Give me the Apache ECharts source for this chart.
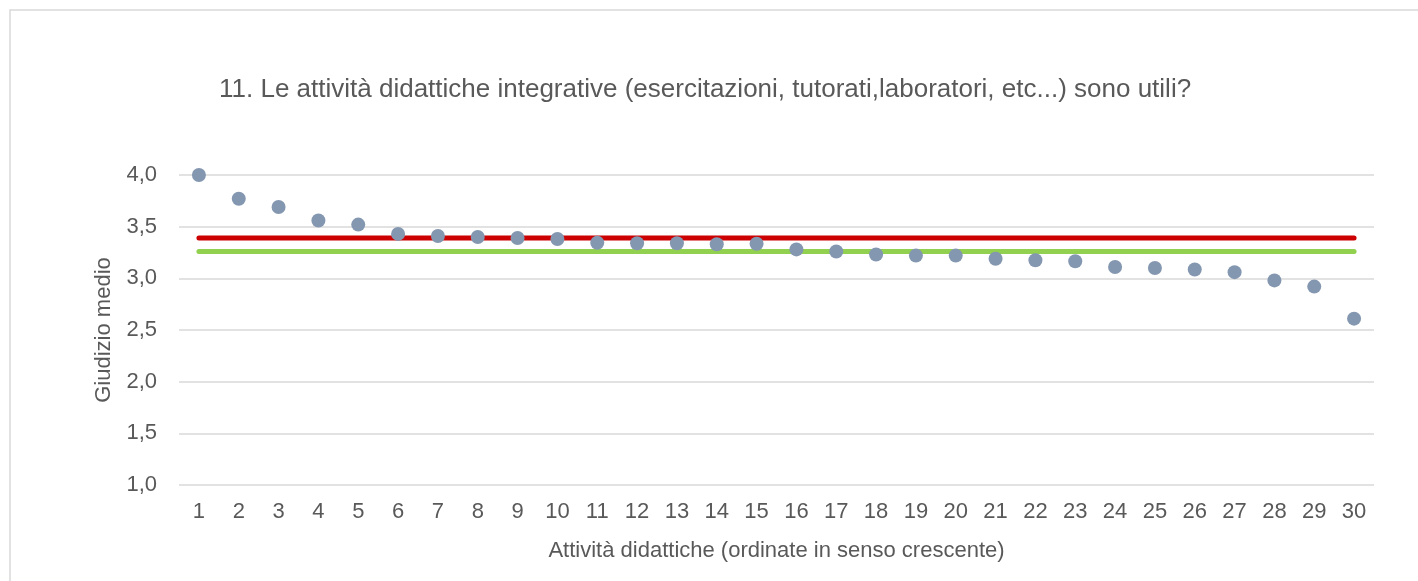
<!DOCTYPE html>
<html>
<head>
<meta charset="utf-8">
<script src="https://cdn.jsdelivr.net/npm/echarts@6/dist/echarts.min.js"></script>
<style>
  html, body { margin: 0; padding: 0; background: #ffffff; }
  #chart { width: 1418px; height: 581px; }
</style>
</head>
<body>
<div id="chart"></div>
<script>
// activities 1..30, sorted by descending average score
const categories = ['1','2','3','4','5','6','7','8','9','10','11','12','13','14','15',
  '16','17','18','19','20','21','22','23','24','25','26','27','28','29','30'];
const scores = [4.00, 3.77, 3.69, 3.56, 3.52, 3.43, 3.41, 3.40, 3.39, 3.38,
  3.345, 3.34, 3.34, 3.33, 3.335, 3.28, 3.26, 3.23, 3.22, 3.22,
  3.19, 3.175, 3.165, 3.11, 3.10, 3.085, 3.06, 2.98, 2.92, 2.61];
const redLevel = 3.39;
const greenLevel = 3.26;
const yTicks = [1.0, 1.5, 2.0, 2.5, 3.0, 3.5, 4.0];

const textColor = '#595959';
const fontFamily = '"Liberation Sans", Arial, sans-serif';

const chart = echarts.init(document.getElementById('chart'));

const options = {
  backgroundColor: '#ffffff',
  animation: false,
  graphic: [{
    type: 'rect',
    shape: { x: 10, y: 10, width: 1430, height: 600 },
    style: { fill: 'none', stroke: '#d9d9d9', lineWidth: 1.5 },
    silent: true
  }],
  title: {
    text: '11. Le attività didattiche integrative (esercitazioni, tutorati,laboratori, etc...) sono utili?',
    left: 214,
    top: 72,
    textStyle: { color: textColor, fontSize: 26, fontWeight: 'normal', fontFamily: fontFamily }
  },
  grid: { left: 179, right: 44, top: 175, bottom: 96 },
  xAxis: {
    type: 'category',
    data: categories,
    boundaryGap: true,
    name: 'Attività didattiche (ordinate in senso crescente)',
    nameLocation: 'middle',
    nameGap: 55,
    nameTextStyle: { color: textColor, fontSize: 22, fontFamily: fontFamily },
    axisLine: { show: false },
    axisTick: { show: false },
    axisLabel: { color: textColor, fontSize: 22, margin: 16, fontFamily: fontFamily, interval: 0 }
  },
  yAxis: {
    type: 'value',
    min: yTicks[0],
    max: yTicks[yTicks.length - 1],
    interval: 0.5,
    name: 'Giudizio medio',
    nameLocation: 'middle',
    nameGap: 64,
    nameTextStyle: { color: textColor, fontSize: 22, fontFamily: fontFamily },
    axisLine: { show: false },
    axisTick: { show: false },
    axisLabel: {
      color: textColor, fontSize: 22, margin: 22, fontFamily: fontFamily,
      formatter: v => v.toFixed(1).replace('.', ',')
    },
    splitLine: { lineStyle: { color: '#d9d9d9', width: 1.5 } }
  },
  series: [
    {
      type: 'line',
      data: categories.map(() => redLevel),
      showSymbol: false,
      lineStyle: { color: '#cc0000', width: 5, cap: 'round' },
      z: 2
    },
    {
      type: 'line',
      data: categories.map(() => greenLevel),
      showSymbol: false,
      lineStyle: { color: '#92d050', width: 5, cap: 'round' },
      z: 2
    },
    {
      type: 'scatter',
      data: scores,
      symbolSize: 14,
      itemStyle: { color: '#8497b0', opacity: 1 },
      z: 3
    }
  ]
};

chart.setOption(options);
</script>
</body>
</html>
